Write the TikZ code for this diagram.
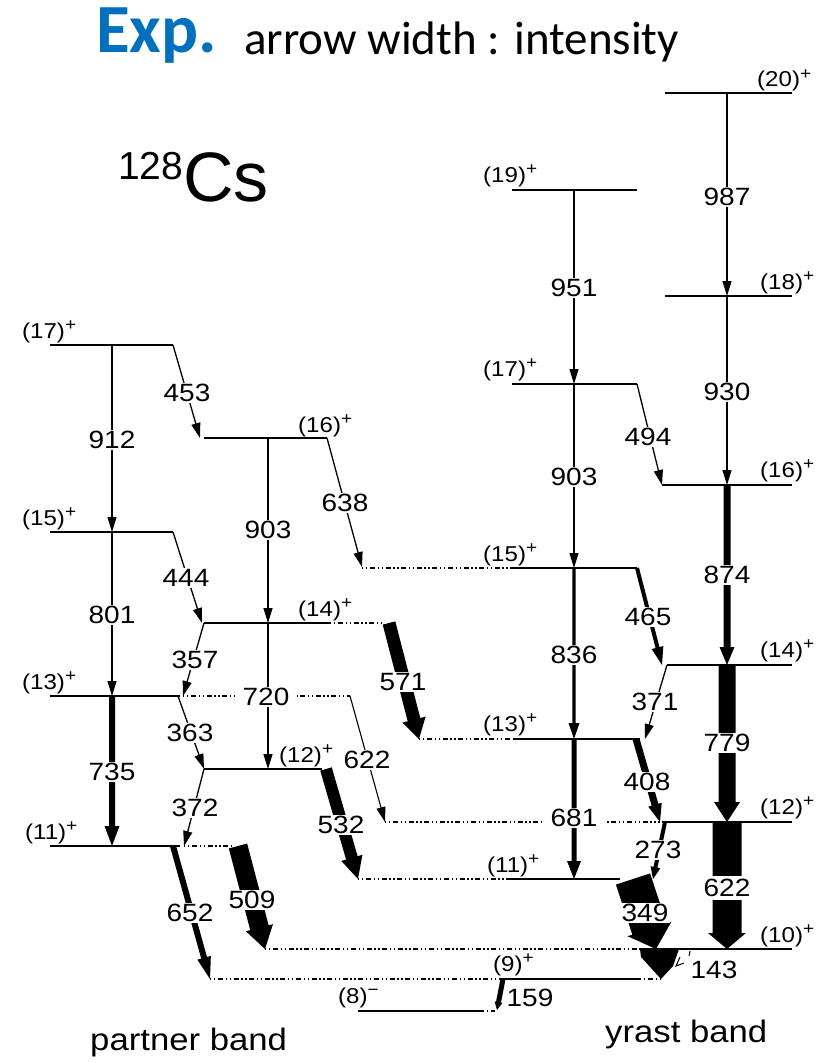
\documentclass[tikz,border=0pt]{standalone}
\usepackage{fontspec}
\setmainfont{Liberation Sans}
\newfontfamily\widesans[FakeStretch=1.12]{Liberation Sans}
\newfontfamily\calibri{Carlito}
\usetikzlibrary{arrows.meta,calc}
\definecolor{expblue}{HTML}{0070C0}
% filled gamma arrow: from, to, half shaft width, half head width, head length
\newcommand{\gam}[5]{%
  \coordinate (gH) at ($(#2)!#5!(#1)$);
  \fill ($(#1)!#3!90:(#2)$) -- ($(gH)!#3!90:(#2)$) -- ($(gH)!#4!90:(#2)$) -- (#2)
     -- ($(gH)!#4!-90:(#2)$) -- ($(gH)!#3!-90:(#2)$) -- ($(#1)!#3!-90:(#2)$) -- cycle;
}
\newcommand{\sps}[1]{\raisebox{7.5pt}{\fontsize{17}{17}\selectfont #1}}
\begin{document}
\begin{tikzpicture}[x=1pt,y=-1pt,
  lvl/.style={line width=1.5pt},
  dots/.style={line width=1.3pt, dash pattern=on 1.4pt off 2.6pt on 1.4pt off 2.6pt on 5pt off 2.6pt},
  tarr/.style={line width=1.3pt, -{Triangle[width=9pt,length=15pt]}},
  tlab/.style={fill=white, inner sep=1.5pt, font=\widesans\fontsize{25}{26}\selectfont},
  spin/.style={anchor=base west, inner sep=0pt, font=\widesans\fontsize{21.5}{24}\selectfont},
]
\fill[white] (0,0) rectangle (836,1062);
\useasboundingbox (0,0) rectangle (836,1062);

% ---------- title ----------
\node[anchor=base west, inner sep=0pt, text=expblue, font=\calibri\bfseries\fontsize{69}{74}\selectfont] (exp) at (96,53) {Exp.};
\node[anchor=base west, inner sep=0pt, font=\calibri\fontsize{47}{52}\selectfont] (awi) at (244,55) {arrow width : intensity};
\node[anchor=base west, inner sep=0pt, font=\fontsize{70}{74}\selectfont] (cs) at (118,201) {\raisebox{22pt}{\fontsize{39}{42}\selectfont 128}Cs};

% ---------- coordinates ----------
\coordinate (s912) at (112,345);  \coordinate (e912) at (112,532);
\coordinate (s453) at (173,345);  \coordinate (e453) at (200,438);
\coordinate (s638) at (327,438);  \coordinate (e638) at (362,567);
\coordinate (s903p) at (268,438); \coordinate (e903p) at (268,623);
\coordinate (s444) at (173,532);  \coordinate (e444) at (202,623);
\coordinate (s801) at (112,532);  \coordinate (e801) at (112,696);
\coordinate (s357) at (204,623);  \coordinate (e357) at (183,696);
\coordinate (s720) at (268,623);  \coordinate (e720) at (268,769);
\coordinate (s571) at (389,623);  \coordinate (e571) at (419,739);
\coordinate (s735) at (112,696);  \coordinate (e735) at (112,846);
\coordinate (s363) at (178,696);  \coordinate (e363) at (204,769);
\coordinate (s622p) at (350,696); \coordinate (e622p) at (385,822);
\coordinate (s532) at (326,769);  \coordinate (e532) at (358,879);
\coordinate (s372) at (204,769);  \coordinate (e372) at (184,846);
\coordinate (s652) at (173,846);  \coordinate (e652) at (210,979);
\coordinate (s509) at (238,846);  \coordinate (e509) at (265,949);

\coordinate (s987) at (727,93);   \coordinate (e987) at (727,296);
\coordinate (s951) at (574,190);  \coordinate (e951) at (574,384);
\coordinate (s930) at (727,296);  \coordinate (e930) at (727,485);
\coordinate (s903y) at (574,384); \coordinate (e903y) at (574,568);
\coordinate (s494) at (637,384);  \coordinate (e494) at (662,485);
\coordinate (s874) at (727,485);  \coordinate (e874) at (727,665);
\coordinate (s836) at (574,568);  \coordinate (e836) at (574,739);
\coordinate (s465) at (637,568);  \coordinate (e465) at (662,665);
\coordinate (s371) at (667,665);  \coordinate (e371) at (645,739);
\coordinate (s779) at (727,665);  \coordinate (e779) at (727,822);
\coordinate (s681) at (574,739);  \coordinate (e681) at (574,879);
\coordinate (s408) at (636,739);  \coordinate (e408) at (660,822);
\coordinate (s273) at (665,822);  \coordinate (e273) at (653,879);
\coordinate (s622y) at (727,822); \coordinate (e622y) at (727,949);
\coordinate (s349) at (633,879);  \coordinate (e349) at (656,949);
\coordinate (s159) at (503,979);  \coordinate (e159) at (497,1010);

% ---------- levels: partner band ----------
\draw[lvl] (50,345) -- (173,345);
\draw[lvl] (204,438) -- (327,438);
\draw[lvl] (50,532) -- (173,532);
\draw[lvl] (204,623) -- (330,623);  \draw[dots] (330,623) -- (383,623);
\draw[lvl] (50,696) -- (180,696);   \draw[dots] (183,696) -- (350,696);
\draw[lvl] (204,769) -- (322,769);
\draw[lvl] (50,846) -- (180,846);   \draw[dots] (184,846) -- (232,846);

% ---------- levels: yrast band ----------
\draw[lvl] (665,93) -- (792,93);
\draw[lvl] (512,190) -- (637,190);
\draw[lvl] (665,296) -- (792,296);
\draw[lvl] (512,384) -- (637,384);
\draw[lvl] (662,485) -- (792,485);
\draw[dots] (362,568) -- (513,568); \draw[lvl] (513,568) -- (637,568);
\draw[lvl] (667,665) -- (792,665);
\draw[dots] (419,739) -- (513,739); \draw[lvl] (513,739) -- (640,739);
\draw[dots] (385,822) -- (660,822); \draw[lvl] (662,822) -- (792,822);
\draw[dots] (358,879) -- (510,879); \draw[lvl] (510,879) -- (620,879);
\draw[dots] (265,949) -- (640,949); \draw[lvl] (640,949) -- (792,949);
\draw[dots] (210,979) -- (500,979); \draw[lvl] (500,979) -- (640,979); \draw[dots] (640,979) -- (660,979);
\draw[lvl] (358,1011) -- (483,1011); \draw[dots] (483,1011) -- (495,1011);

% ---------- transitions: partner band ----------
\draw[tarr] (s912) -- (e912);
\draw[tarr] (s453) -- (e453);
\draw[tarr] (s638) -- (e638);
\draw[tarr] (s903p) -- (e903p);
\draw[tarr] (s444) -- (e444);
\draw[tarr] (s801) -- (e801);
\draw[tarr] (s357) -- (e357);
\draw[tarr] (s720) -- (e720);
\draw[tarr] (s363) -- (e363);
\draw[tarr, line width=1.1pt] (s622p) -- (e622p);
\draw[tarr] (s372) -- (e372);
\gam{s571}{e571}{6.5pt}{12pt}{20pt}
\gam{s735}{e735}{3pt}{7.5pt}{20pt}
\gam{s532}{e532}{6pt}{11pt}{22pt}
\gam{s652}{e652}{3pt}{7pt}{22pt}
\gam{s509}{e509}{9.5pt}{14pt}{22pt}

% ---------- transitions: yrast band ----------
\draw[tarr] (s987) -- (e987);
\draw[tarr] (s951) -- (e951);
\draw[tarr] (s930) -- (e930);
\draw[tarr] (s903y) -- (e903y);
\draw[tarr] (s494) -- (e494);
\draw[tarr] (s371) -- (e371);
\gam{s874}{e874}{3.5pt}{7.5pt}{18pt}
\gam{s836}{e836}{1.6pt}{5.5pt}{16pt}
\gam{s465}{e465}{2pt}{6pt}{18pt}
\gam{s779}{e779}{8.5pt}{13pt}{20pt}
\gam{s681}{e681}{2.5pt}{7pt}{18pt}
\gam{s408}{e408}{3.5pt}{7pt}{18pt}
\gam{s273}{e273}{2pt}{5pt}{12pt}
\gam{s622y}{e622y}{14.5pt}{19pt}{16pt}
\gam{s349}{e349}{18pt}{23pt}{21pt}
\gam{s159}{e159}{2.5pt}{4pt}{8pt}
% 143 transition
\fill (640,949) -- (679,949) -- (673,966) -- (661,979) -- (641,957) -- cycle;
\draw[line width=1pt] (680,957) -- (676,966) -- (684,963);
\draw[line width=1pt] (690,951) -- (689,956);

% ---------- transition labels ----------
\node[tlab] (l912) at (112,440) {912};
\node[tlab] (l453) at (187,393) {453};
\node[tlab] (l638) at (345,503) {638};
\node[tlab] (l903p) at (268,530) {903};
\node[tlab] (l444) at (186,578) {444};
\node[tlab] (l801) at (112,615) {801};
\node[tlab] (l357) at (195,660) {357};
\node[tlab, inner xsep=8pt] (l720) at (266,697) {720};
\node[tlab] (l571) at (403,682) {571};
\node[tlab] (l735) at (112,772) {735};
\node[tlab] (l363) at (190,733) {363};
\node[tlab] (l622p) at (367,760) {622};
\node[tlab] (l532) at (341,825) {532};
\node[tlab] (l372) at (195,808) {372};
\node[tlab] (l652) at (190,913) {652};
\node[tlab] (l509) at (252,900) {509};

\node[tlab] (l987) at (727,197) {987};
\node[tlab] (l951) at (574,288) {951};
\node[tlab] (l930) at (727,392) {930};
\node[tlab] (l903y) at (574,477) {903};
\node[tlab] (l494) at (648,437) {494};
\node[tlab] (l874) at (727,575) {874};
\node[tlab] (l836) at (574,655) {836};
\node[tlab] (l465) at (648,617) {465};
\node[tlab] (l371) at (655,702) {371};
\node[tlab] (l779) at (727,743) {779};
\node[tlab, inner xsep=8pt] (l681) at (574,818) {681};
\node[tlab] (l408) at (647,782) {408};
\node[tlab] (l273) at (658,850) {273};
\node[tlab, inner ysep=3pt] (l622y) at (727,888) {622};
\node[tlab] (l349) at (645,913) {349};
\node[tlab, fill=none] (l143) at (714,970) {143};
\node[tlab, fill=none] (l159) at (530,998) {159};

% ---------- spin labels ----------
\node[spin] (p17) at (22,338) {(17)\sps{+}};
\node[spin] (p16) at (298,432) {(16)\sps{+}};
\node[spin] (p15) at (22,525) {(15)\sps{+}};
\node[spin] (p14) at (298,616) {(14)\sps{+}};
\node[spin] (p13) at (22,689) {(13)\sps{+}};
\node[spin] (p12) at (279,762) {(12)\sps{+}};
\node[spin] (p11) at (25,839) {(11)\sps{+}};

\node[spin] (y20) at (757,87) {(20)\sps{+}};
\node[spin] (y19) at (483,182) {(19)\sps{+}};
\node[spin] (y18) at (760,289) {(18)\sps{+}};
\node[spin] (y17) at (483,376) {(17)\sps{+}};
\node[spin] (y16) at (760,477) {(16)\sps{+}};
\node[spin] (y15) at (483,561) {(15)\sps{+}};
\node[spin] (y14) at (760,657) {(14)\sps{+}};
\node[spin] (y13) at (483,731) {(13)\sps{+}};
\node[spin] (y12) at (760,814) {(12)\sps{+}};
\node[spin] (y11) at (487,872) {(11)\sps{+}};
\node[spin] (y10) at (760,942) {(10)\sps{+}};
\node[spin] (y9) at (493,971) {(9)\sps{+}};
\node[spin] (y8) at (338,1003) {(8)\sps{−}};

% ---------- band names ----------
\node[anchor=base west, inner sep=0pt, font=\widesans\fontsize{31}{36}\selectfont] (pb) at (90,1050) {partner band};
\node[anchor=base west, inner sep=0pt, font=\widesans\fontsize{31}{36}\selectfont] (yb) at (605,1042) {yrast band};
\end{tikzpicture}
\end{document}
